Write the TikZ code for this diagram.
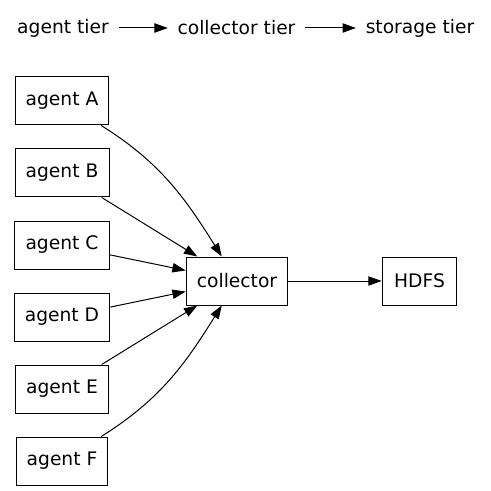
\documentclass[tikz,border=0pt]{standalone}
\usepackage{fontspec}
\setmainfont{DejaVu Sans}
\usetikzlibrary{arrows.meta,positioning}
\begin{document}
\begin{tikzpicture}[x=0.75pt,y=-0.75pt,-{Triangle[length=10pt,width=7pt]},line width=0.75pt,font=\fontsize{14pt}{17pt}\selectfont,box node/.style={draw,rectangle,minimum height=36pt,minimum width=54pt,inner xsep=8pt},tier node/.style={inner xsep=7pt,inner ysep=2pt}]
\useasboundingbox (0,0) rectangle (491,491);
\node[tier node] (agenttier) at (63,28) {agent tier};
\node[tier node] (collectortier) at (236.5,28) {collector tier};
\node[tier node] (storagetier) at (420,28) {storage tier};
\node[box node] (agentA) at (62,101) {agent A};
\node[box node] (agentB) [below=17.25pt of agentA] {agent B};
\node[box node] (agentC) [below=17.25pt of agentB] {agent C};
\node[box node] (agentD) [below=17.25pt of agentC] {agent D};
\node[box node] (agentE) [below=17.25pt of agentD] {agent E};
\node[box node] (agentF) [below=17.25pt of agentE] {agent F};
\node[box node] (collector) at (237,281) {collector};
\node[box node,minimum width=56pt] (hdfs) at (419.5,281) {HDFS};
\draw (agenttier) -- (collectortier);
\draw (collectortier) -- (storagetier);
\draw (agentA) to[out=-32,in=122] (collector);
\draw (agentB) -- (collector);
\draw (agentC) -- (collector);
\draw (agentD) -- (collector);
\draw (agentE) -- (collector);
\draw (agentF) to[out=32,in=-122] (collector);
\draw (collector) -- (hdfs);
\end{tikzpicture}
\end{document}
